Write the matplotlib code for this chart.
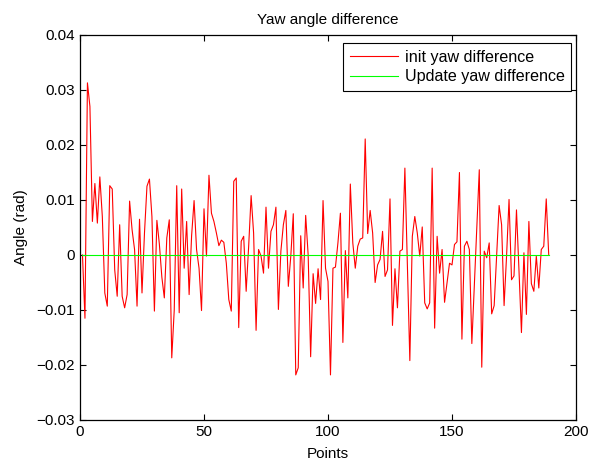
import numpy as np
from matplotlib import pyplot as plt

# init yaw difference, one value per point (x = 1..189)
init_diff = [
    0.0, -0.0115, 0.0313, 0.027, 0.0061, 0.013, 0.0058, 0.0142, 0.0070, -0.0069,
    -0.0093, 0.0126, 0.012, -0.0027, -0.0075, 0.0055, -0.0075, -0.0096, -0.0072, 0.0098,
    0.0046, 0.001, -0.0093, 0.0065, -0.0069, 0.004, 0.0125, 0.0138, 0.007, -0.0102,
    0.0063, 0.002, -0.004, -0.0078, 0.0031, 0.0064, -0.0187, -0.010, 0.0126, -0.0105,
    0.012, -0.0024, 0.0061, -0.0072, 0.0035, 0.0099, 0.001, -0.0024, -0.0101, 0.0084,
    -0.0002, 0.0145, 0.0076, 0.0061, 0.004, 0.0017, 0.0027, 0.0023, -0.0015, -0.0081,
    -0.0102, 0.0134, 0.014, -0.0132, 0.0025, 0.0034, -0.0066, 0.0015, 0.0108, 0.004,
    -0.0137, 0.001, -0.0002, -0.0033, 0.0087, -0.0024, 0.0043, 0.0055, 0.0087, -0.0099,
    0.0007, 0.0055, 0.0081, -0.0057, -0.0002, 0.0075, -0.0218, -0.0205, 0.0035, -0.006,
    0.0072, 0.0, -0.0185, -0.0034, -0.0088, -0.0025, -0.0081, 0.0099, -0.0024, -0.0048,
    -0.0218, -0.0024, -0.0022, 0.0022, 0.0076, -0.0159, 0.0008, -0.0078, 0.0129, 0.0022,
    -0.0024, 0.0016, 0.0029, 0.0031, 0.0211, 0.0039, 0.0081, 0.004, -0.005, -0.0018,
    -0.0008, 0.0043, -0.0039, -0.0027, 0.0102, -0.0128, -0.0025, -0.0096, 0.0007, 0.001,
    0.0158, -0.0015, -0.0192, 0.0034, 0.007, 0.004, -0.0002, 0.0051, -0.0087, -0.0098,
    -0.0087, 0.0158, -0.0133, 0.0034, -0.0033, 0.001, -0.0086, -0.005, -0.0015, -0.0018,
    0.0019, 0.0024, 0.015, -0.0153, 0.0016, 0.0025, 0.001, -0.0161, -0.0057, 0.0049,
    0.0155, -0.0204, 0.0007, -0.0005, 0.0022, -0.0107, -0.0092, -0.0002, 0.009, 0.0055,
    -0.0092, -0.0002, 0.0101, -0.0045, -0.0038, 0.0082, -0.0027, -0.0141, 0.0004, -0.0108,
    0.0061, -0.0052, -0.0066, -0.0002, -0.006, 0.001, 0.0016, 0.0102, 0.0,
]
points = np.arange(1, len(init_diff) + 1)
update_diff = np.zeros(len(init_diff))  # after update the difference is zero

x_ticks = [0, 50, 100, 150, 200]
y_ticks = [-0.03, -0.02, -0.01, 0, 0.01, 0.02, 0.03, 0.04]
y_labels = ['\u22120.03', '\u22120.02', '\u22120.01', '0', '0.01', '0.02', '0.03', '0.04']

plt.rcParams['font.family'] = ['Liberation Sans', 'DejaVu Sans']
plt.rcParams['font.size'] = 11

fig = plt.figure(figsize=(5.99, 4.62), dpi=100)
ax = fig.add_axes([80 / 599, 1 - 420 / 462, 496 / 599, 385 / 462])

ax.plot(points, init_diff, color='#ff0000', lw=0.8, label='init yaw difference')
ax.plot(points, update_diff, color='#00ff00', lw=0.8, label='Update yaw difference')

ax.set_xlim(0, 200)
ax.set_ylim(-0.03, 0.04)
ax.set_xticks(x_ticks)
ax.set_xticklabels([str(t) for t in x_ticks])
ax.set_yticks(y_ticks)
ax.set_yticklabels(y_labels)
ax.tick_params(direction='in', top=True, right=True, length=4, width=0.8, labelsize=11)
for s in ax.spines.values():
    s.set_linewidth(0.9)

ax.set_title('Yaw angle difference', fontsize=11, pad=8)
ax.set_xlabel('Points', fontsize=11, labelpad=6)
ax.set_ylabel('Angle (rad)', fontsize=11, labelpad=6)

leg = ax.legend(loc='upper right', bbox_to_anchor=(0.99, 0.979), borderaxespad=0,
                fancybox=False, framealpha=1, edgecolor='black', handlelength=3.0,
                labelspacing=0.3, borderpad=0.4, handletextpad=0.4, fontsize=11.6)
leg.get_frame().set_linewidth(0.8)

fig.savefig('out.png', dpi=100)
